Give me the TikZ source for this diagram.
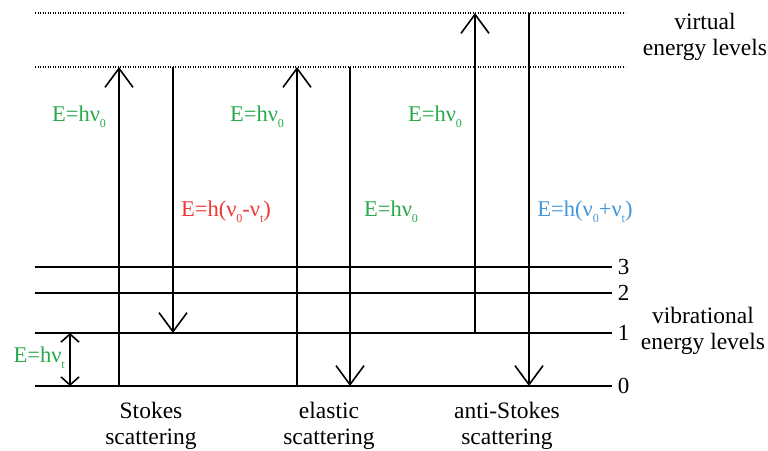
\documentclass[tikz,border=0pt]{standalone}
\usepackage{fontspec}
\setmainfont{Liberation Serif}
\usetikzlibrary{arrows.meta, positioning, calc}
\definecolor{ramangreen}{RGB}{40,170,75}
\definecolor{ramanred}{RGB}{235,55,55}
\definecolor{ramanblue}{RGB}{65,150,220}
\newcommand{\lowidx}[1]{\raisebox{-0.28em}{\fontsize{12}{12}\selectfont #1}}
\tikzset{
    levelline/.style={line width=1.6pt},
    virtline/.style={line width=2.2pt, dash pattern=on 1.2pt off 1.3pt},
    photon/.style={line width=1.6pt, -{Straight Barb[length=19pt, width=28pt, line width=1.6pt]}}
}

\begin{document}
\begin{tikzpicture}[
    x=1pt, y=-1pt,
    lbl/.style={font=\fontsize{23.5}{26}\selectfont, align=center},
    energy/.style={font=\fontsize{22.5}{24}\selectfont, inner sep=0pt},
    num/.style={font=\fontsize{23}{23}\selectfont, anchor=west, inner xsep=5pt, inner ysep=0pt},
    vibarrow/.style={line width=1.6pt, {Straight Barb[length=8pt, width=18pt, line width=1.6pt]}-{Straight Barb[length=8pt, width=18pt, line width=1.6pt]}}
]
    \useasboundingbox (0,0) rectangle (768,450);

    % Level heights
    \coordinate (lev0) at (35,386);
    \coordinate (lev1) at (35,333);
    \coordinate (lev2) at (35,293);
    \coordinate (lev3) at (35,267);
    \coordinate (vir1) at (35,67);
    \coordinate (vir2) at (35,13);
    \coordinate (rend) at (612,0);
    \coordinate (vend) at (625,0);

    % Arrow columns
    \coordinate (vib) at (70,0);
    \coordinate (stin) at (119,0);
    \coordinate (stout) at (173,0);
    \coordinate (elin) at (297,0);
    \coordinate (elout) at (350,0);
    \coordinate (asin) at (475,0);
    \coordinate (asout) at (529,0);

    % Vibrational energy levels
    \draw [levelline] (lev0) -- (lev0 -| rend) node [num] (n0) {0};
    \draw [levelline] (lev1) -- (lev1 -| rend) node [num] (n1) {1};
    \draw [levelline] (lev2) -- (lev2 -| rend) node [num] (n2) {2};
    \draw [levelline] (lev3) -- (lev3 -| rend) node [num] (n3) {3};

    % Virtual energy levels
    \draw [virtline] (vir1) -- (vir1 -| vend);
    \draw [virtline] (vir2) -- (vir2 -| vend);

    % Stokes scattering
    \draw [photon] (stin |- lev0) -- (stin |- vir1);
    \draw [photon] (stout |- vir1) -- (stout |- lev1);

    % Elastic scattering
    \draw [photon] (elin |- lev0) -- (elin |- vir1);
    \draw [photon] (elout |- vir1) -- (elout |- lev0);

    % Anti-Stokes scattering
    \draw [photon] (asin |- lev1) -- (asin |- vir2);
    \draw [photon] (asout |- vir2) -- (asout |- lev0);

    % Vibrational quantum
    \draw [vibarrow] (vib |- lev1) -- (vib |- lev0);
    \node [energy, text=ramangreen, anchor=east] (evib) at (65,358) {E=hν\lowidx{t}};

    % Photon energies
    \node [energy, text=ramangreen] (estin) at (79,117) {E=hν\lowidx{0}};
    \node [energy, text=ramangreen] (eelin) at (257,117) {E=hν\lowidx{0}};
    \node [energy, text=ramangreen] (easin) at (435,117) {E=hν\lowidx{0}};
    \node [energy, text=ramanred] (estout) at (226,212) {E=h(ν\lowidx{0}-ν\lowidx{t})};
    \node [energy, text=ramangreen] (eelout) at (391,212) {E=hν\lowidx{0}};
    \node [energy, text=ramanblue] (easout) at (585,212) {E=h(ν\lowidx{0}+ν\lowidx{t})};

    % Captions
    \node [lbl] (virtual) at (705,37) {virtual\\energy levels};
    \node [lbl] (vibrational) at (703,331) {vibrational\\energy levels};
    \node [lbl] (stokes) at (151,426) {Stokes\\scattering};
    \node [lbl] (elastic) at (329,426) {elastic\\scattering};
    \node [lbl] (antistokes) at (507,426) {anti-Stokes\\scattering};

\end{tikzpicture}
\end{document}
